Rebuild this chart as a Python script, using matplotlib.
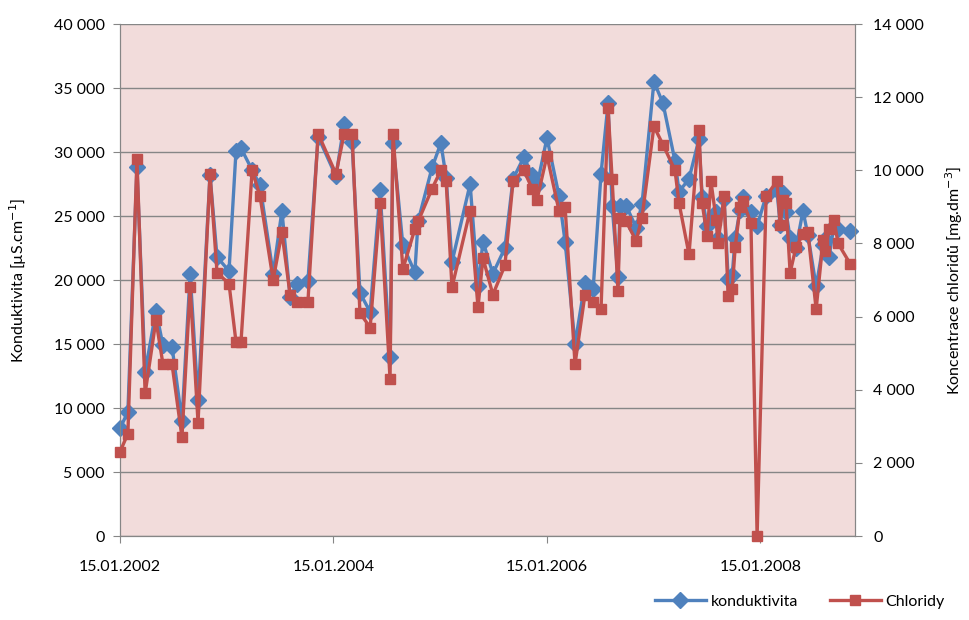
import matplotlib.pyplot as plt
import matplotlib.dates as mdates
import matplotlib.ticker as ticker
import pandas as pd

plt.rcParams['font.family'] = ['Lato', 'DejaVu Sans']

# data
dates = [
    '2002-01-15', '2002-02-11', '2002-03-14', '2002-04-11', '2002-05-18', '2002-06-11',
    '2002-07-12', '2002-08-15', '2002-09-12', '2002-10-09', '2002-11-19', '2002-12-13',
    '2003-01-23', '2003-02-16', '2003-03-05', '2003-04-12', '2003-05-09', '2003-06-23',
    '2003-07-23', '2003-08-20', '2003-09-13', '2003-10-20', '2003-11-24', '2004-01-24',
    '2004-02-21', '2004-03-19', '2004-04-15', '2004-05-20', '2004-06-23', '2004-07-27',
    '2004-08-06', '2004-09-09', '2004-10-20', '2004-10-31', '2004-12-18', '2005-01-17',
    '2005-02-04', '2005-02-24', '2005-04-27', '2005-05-24', '2005-06-10', '2005-07-14',
    '2005-08-24', '2005-09-21', '2005-10-28', '2005-11-25', '2005-12-12', '2006-01-15',
    '2006-02-25', '2006-03-18', '2006-04-21', '2006-05-25', '2006-06-22', '2006-07-19',
    '2006-08-12', '2006-08-26', '2006-09-15', '2006-09-22', '2006-10-13', '2006-11-16',
    '2006-12-06', '2007-01-16', '2007-02-16', '2007-03-29', '2007-04-12', '2007-05-16',
    '2007-06-19', '2007-06-30', '2007-07-17', '2007-07-30', '2007-08-17', '2007-08-23',
    '2007-09-13', '2007-09-27', '2007-10-11', '2007-10-21', '2007-11-07', '2007-11-17',
    '2007-12-14', '2008-01-04', '2008-02-04', '2008-03-12', '2008-03-23', '2008-04-02',
    '2008-04-12', '2008-04-26', '2008-05-16', '2008-06-09', '2008-06-26', '2008-07-24',
    '2008-08-17', '2008-08-24', '2008-09-06', '2008-09-23', '2008-10-07', '2008-11-17',
]
konduktivita = [
    8400, 9700, 28800, 12800, 17600, 14900,
    14800, 9000, 20500, 10600, 28200, 21800,
    20700, 30100, 30300, 28600, 27400, 20500,
    25400, 18700, 19700, 19900, 31200, 28100,
    32200, 30800, 19000, 17500, 27000, 14000,
    30700, 22700, 20600, 24600, 28800, 30700,
    28000, 21400, 27500, 19500, 23000, 20500,
    22500, 27900, 29600, 28200, 27400, 31100,
    26600, 23000, 15000, 19800, 19300, 28300,
    33800, 25800, 20200, 25800, 25800, 24100,
    25900, 35500, 33800, 29300, 26900, 27900,
    31000, 26500, 24200, 24600, 25300, 23300,
    26300, 20100, 20400, 23300, 25500, 26500,
    25300, 24200, 26600, 27000, 24300, 26800,
    25300, 23300, 22500, 25400, 23500, 19500,
    22700, 23200, 21800, 24200, 24000, 23800,
]
chloridy = [
    2300, 2800, 10300, 3900, 5900, 4700,
    4700, 2700, 6800, 3100, 9900, 7200,
    6900, 5300, 5300, 10000, 9300, 7000,
    8300, 6600, 6400, 6400, 11000, 9900,
    11000, 11000, 6100, 5700, 9100, 4300,
    11000, 7300, 8400, 8600, 9500, 10000,
    9700, 6800, 8900, 6250, 7600, 6600,
    7400, 9700, 10000, 9500, 9200, 10400,
    8900, 9000, 4700, 6600, 6400, 6200,
    11700, 9750, 6700, 8700, 8600, 8070,
    8700, 11200, 10700, 10000, 9100, 7700,
    11100, 9100, 8200, 9700, 8650, 8000,
    9300, 6550, 6750, 7900, 9000, 9150,
    8550, 0, 9300, 9700, 8500, 9200,
    9100, 7200, 7900, 8250, 8300, 6200,
    8100, 7800, 8400, 8650, 8000, 7450,
]
x_ticks = ['2002-01-15', '2004-01-15', '2006-01-15', '2008-01-15']

df = pd.DataFrame({'datum': pd.to_datetime(dates),
                   'konduktivita': konduktivita,
                   'chloridy': chloridy})

blue = '#4F81BD'
red = '#C0504D'
grey = '#868686'

fig = plt.figure(figsize=(9.69, 6.2), dpi=100)
ax1 = fig.add_axes([120 / 969, 1 - 536 / 620, 735 / 969, 512 / 620])
ax2 = ax1.twinx()

ax1.set_facecolor('#F2DCDB')
ax1.plot(df['datum'], df['konduktivita'], color=blue, lw=2.4, marker='D',
         markersize=8, label='konduktivita', zorder=3, clip_on=False)
ax2.plot(df['datum'], df['chloridy'], color=red, lw=2.4, marker='s',
         markersize=6.5, label='Chloridy', zorder=3, clip_on=False)

ax1.set_ylim(0, 40000)
ax1.set_yticks(range(0, 40001, 5000))
ax2.set_ylim(0, 14000)
ax2.set_yticks(range(0, 14001, 2000))

fmt = ticker.FuncFormatter(lambda v, p: f'{int(v):,}'.replace(',', ' '))
ax1.yaxis.set_major_formatter(fmt)
ax2.yaxis.set_major_formatter(fmt)

ax1.set_xlim(pd.Timestamp('2002-01-15'), pd.Timestamp('2008-12-04'))
ax1.set_xticks(pd.to_datetime(x_ticks))
ax1.xaxis.set_major_formatter(mdates.DateFormatter('%d.%m.%Y'))

ax1.grid(axis='y', color=grey, lw=1)
ax1.set_axisbelow(True)

for ax in (ax1, ax2):
    for side in ('left', 'right', 'bottom'):
        ax.spines[side].set_color(grey)
    ax.spines['top'].set_visible(False)
    ax.tick_params(colors=grey, labelcolor='black', labelsize=11.5, length=5)
ax1.tick_params(axis='x', pad=12)
ax1.tick_params(axis='y', pad=6)
ax2.tick_params(axis='y', pad=8)

ax1.set_ylabel('Konduktivita [µS.cm$^{-1}$]', fontsize=11.5, labelpad=18)
ax2.set_ylabel('Koncentrace chloridů [mg.dm$^{-3}$]', fontsize=11.5, labelpad=14)

h1, l1 = ax1.get_legend_handles_labels()
h2, l2 = ax2.get_legend_handles_labels()
fig.legend(h1 + h2, l1 + l2, loc='lower right', bbox_to_anchor=(0.99, -0.005),
           ncol=2, frameon=False, fontsize=11.5, handlelength=3.2,
           columnspacing=2.0, handletextpad=0.3)

fig.savefig('out.png', dpi=100)
